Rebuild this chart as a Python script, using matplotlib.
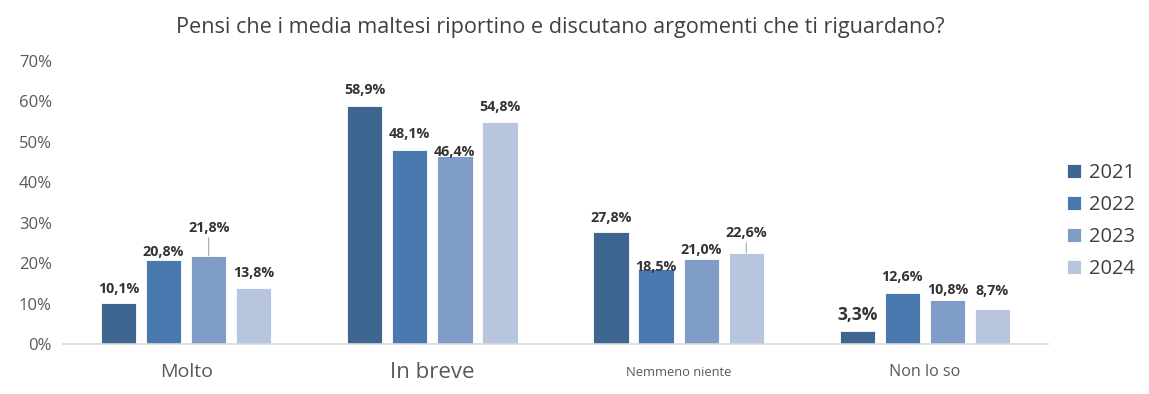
import matplotlib
matplotlib.use("Agg")
import matplotlib.pyplot as plt
import numpy as np

plt.rcParams['font.family'] = ['Open Sans', 'DejaVu Sans']

categories = ["Molto", "In breve", "Nemmeno niente", "Non lo so"]
years = ["2021", "2022", "2023", "2024"]
v2021 = [10.1, 58.9, 27.8, 3.3]
v2022 = [20.8, 48.1, 18.5, 12.6]
v2023 = [21.8, 46.4, 21.0, 10.8]
v2024 = [13.8, 54.8, 22.6, 8.7]
series = [v2021, v2022, v2023, v2024]
yticks = [0, 10, 20, 30, 40, 50, 60, 70]

colors = ["#3F6591", "#4A79B0", "#7F9DC7", "#B8C5DF"]
cat_sizes = [14, 16, 9.3, 11.6]
# label offsets in pixels above bar top (style), per series per category
label_dy = [[14, 16, 14, 16],
            [8, 16, 2, 16],
            [28, 4, 9, 10],
            [15, 15, 20, 18]]
leaders = {(2, 0), (3, 2)}

fig = plt.figure(figsize=(11.49, 3.94), dpi=100)
ax = fig.add_axes([63 / 1149, 1 - 344 / 394, (1048 - 63) / 1149, (344 - 61) / 394])

x = np.arange(len(categories))
bw = 0.143
step = 0.183
for i, (vals, col) in enumerate(zip(series, colors)):
    xs = x + (i - 1.5) * step
    ax.bar(xs, vals, width=bw, color=col, edgecolor="white", linewidth=0.6, label=years[i], zorder=2)
    for j, (xx, v) in enumerate(zip(xs, vals)):
        dy = label_dy[i][j]
        fs = 12.5 if (i == 0 and j == 3) else 10.3
        txt = f"{v:.1f}%".replace(".", ",")
        ax.annotate(txt, (xx, v), xytext=(0, dy), textcoords="offset pixels",
                    ha="center", va="center", fontsize=fs, fontweight="bold",
                    color="#333333", zorder=4)
        if (i, j) in leaders:
            ax.annotate("", (xx, v), xytext=(0, dy - 10), textcoords="offset pixels",
                        arrowprops=dict(arrowstyle="-", color="#A6A6A6", lw=0.8,
                                        shrinkA=0, shrinkB=0))

ax.set_xlim(-0.5, 3.5)
ax.set_ylim(0, 70)
ax.set_yticks(yticks)
ax.set_yticklabels([f"{t}%" for t in yticks], fontsize=12, color="#595959")
ax.set_xticks(x)
ax.set_xticklabels([])
for j, c in enumerate(categories):
    ax.text(x[j], -0.1, c, transform=ax.get_xaxis_transform(), ha="center", va="center",
            fontsize=cat_sizes[j], color="#595959")
ax.tick_params(axis="both", length=0)
ax.tick_params(axis="y", pad=8)
for s in ["top", "right", "left"]:
    ax.spines[s].set_visible(False)
ax.spines["bottom"].set_color("#D9D9D9")
ax.spines["bottom"].set_linewidth(1.2)

fig.suptitle("Pensi che i media maltesi riportino e discutano argomenti che ti riguardano?",
             x=560 / 1149, y=1 - 28 / 394, va="center", fontsize=15.6, color="#404040")

leg = ax.legend(loc="upper left", bbox_to_anchor=(1059 / 1149, 1 - 155 / 394),
                bbox_transform=fig.transFigure, frameon=False, fontsize=14.5,
                handlelength=0.7, handleheight=0.7, handletextpad=0.4, labelspacing=0.6,
                borderaxespad=0)
for t in leg.get_texts():
    t.set_color("#404040")

fig.savefig("out.png", dpi=100)
